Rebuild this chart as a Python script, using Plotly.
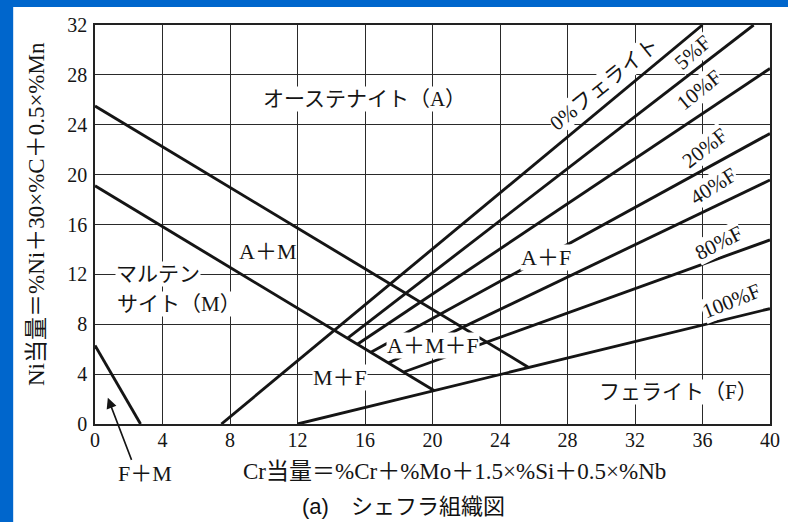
import plotly.graph_objects as go

# Schaeffler constitution diagram: Cr equivalent (x) vs Ni equivalent (y)
x_ticks = [0, 4, 8, 12, 16, 20, 24, 28, 32, 36, 40]
y_ticks = [0, 4, 8, 12, 16, 20, 24, 28, 32]

# Phase boundary lines (Cr eq, Ni eq)
am_upper_cr = [0.0, 25.7]
am_upper_ni = [25.5, 4.54]
am_lower_cr = [0.0, 20.09]
am_lower_ni = [19.1, 2.68]
fm_cr = [0.0, 2.7]
fm_ni = [6.3, 0.0]

# Constant ferrite-content lines
ferrite_pct = ["0%", "5%", "10%", "20%", "40%", "80%", "100%"]
ferrite_cr_start = [7.49, 14.99, 15.57, 16.35, 17.4, 18.3, 12.0]
ferrite_ni_start = [0.0, 6.9, 6.41, 5.76, 4.9, 4.17, 0.0]
ferrite_cr_end = [36.0, 39.03, 40.0, 40.0, 40.0, 40.0, 40.0]
ferrite_ni_end = [32.0, 32.0, 28.52, 23.3, 19.57, 14.76, 9.25]

# Ferrite line labels
ferrite_labels = ["0%フェライト", "5%F", "10%F", "20%F", "40%F", "80%F", "100%F"]
ferrite_label_cr = [30.2, 35.45, 35.8, 36.15, 36.65, 36.95, 37.7]
ferrite_label_ni = [27.25, 29.8, 26.8, 22.1, 19.1, 14.5, 9.89]
ferrite_label_angle = [-39, -41, -39, -38, -32, -27, -22]

# Region labels inside the diagram
region_labels = ["オーステナイト（A）", "A＋M", "A＋F", "A＋M＋F", "M＋F",
                 "フェライト（F）", "マルテン", "サイト（M）"]
region_cr = [15.95, 10.2, 26.75, 20.05, 14.5, 34.55, 3.74, 5.0]
region_ni = [26.06, 13.82, 13.35, 6.27, 3.73, 2.59, 12.03, 9.62]

# F+M corner: label below the axis, arrow into the corner
fm_label = "F＋M"
fm_arrow_head = (0.76, 2.1)
fm_arrow_tail = (2.2, -3.0)

x_title = "Cr当量＝%Cr＋%Mo＋1.5×%Si＋0.5×%Nb"
y_title = "Ni当量＝%Ni＋30×%C＋0.5×%Mn"
caption = "(a)　シェフラ組織図"

SERIF = "Liberation Serif, Noto Sans CJK JP, serif"
SANS = "Liberation Sans, Noto Sans CJK JP, sans-serif"
INK = "#151515"

fig = go.Figure()

line_style = dict(color=INK, width=2.9)
for cr, ni, name in [(am_upper_cr, am_upper_ni, "A/A+M"),
                     (am_lower_cr, am_lower_ni, "M/A+M"),
                     (fm_cr, fm_ni, "F+M")]:
    fig.add_trace(go.Scatter(x=cr, y=ni, mode="lines", line=line_style,
                             name=name, hoverinfo="skip"))

for i, pct in enumerate(ferrite_pct):
    fig.add_trace(go.Scatter(
        x=[ferrite_cr_start[i], ferrite_cr_end[i]],
        y=[ferrite_ni_start[i], ferrite_ni_end[i]],
        mode="lines", line=line_style, name=pct + "F", hoverinfo="skip"))

annotations = []
for txt, cr, ni in zip(region_labels, region_cr, region_ni):
    size = 21 if any(ord(c) > 0x3000 and c not in "＋" for c in txt) else 22
    annotations.append(dict(x=cr, y=ni, xref="x", yref="y", text=txt,
                            showarrow=False, bgcolor="white", borderpad=0,
                            font=dict(family=SERIF, size=size, color=INK)))

for txt, cr, ni, ang in zip(ferrite_labels, ferrite_label_cr,
                            ferrite_label_ni, ferrite_label_angle):
    annotations.append(dict(x=cr, y=ni, xref="x", yref="y", text=txt,
                            textangle=ang, showarrow=False, bgcolor="white",
                            borderpad=0,
                            font=dict(family=SERIF, size=21, color=INK)))

# arrow pointing into the F+M corner
annotations.append(dict(x=fm_arrow_head[0], y=fm_arrow_head[1], xref="x", yref="y",
                        ax=fm_arrow_tail[0], ay=fm_arrow_tail[1],
                        axref="x", ayref="y", text="", showarrow=True,
                        arrowhead=2, arrowsize=1.3, arrowwidth=1.6,
                        arrowcolor=INK))
annotations.append(dict(x=0.0745, y=-0.124, xref="paper", yref="paper",
                        xanchor="center", yanchor="middle", text=fm_label,
                        showarrow=False,
                        font=dict(family=SERIF, size=22, color=INK)))

# axis titles and caption
annotations.append(dict(x=0.533, y=-0.12, xref="paper", yref="paper",
                        xanchor="center", yanchor="middle",
                        text=x_title, showarrow=False,
                        font=dict(family=SERIF, size=23, color=INK)))
annotations.append(dict(x=-0.087, y=0.527, xref="paper", yref="paper",
                        xanchor="center", yanchor="middle",
                        text=y_title, textangle=-90, showarrow=False,
                        font=dict(family=SERIF, size=23, color=INK)))
annotations.append(dict(x=0.457, y=-0.208, xref="paper", yref="paper",
                        xanchor="center", yanchor="middle",
                        text=caption, showarrow=False,
                        font=dict(family=SANS, size=22, color="#111")))

# slide frame strips along the top and left edges
shapes = [
    dict(type="rect", xref="paper", yref="paper", x0=-0.16, x1=-0.1212,
         y0=-0.3, y1=1.1, fillcolor="#0066CC", line=dict(width=0), layer="above"),
    dict(type="rect", xref="paper", yref="paper", x0=-0.16, x1=1.05,
         y0=1.0451, y1=1.1, fillcolor="#0066CC", line=dict(width=0), layer="above"),
]

axis_common = dict(showgrid=True, gridcolor="#2a2a2a", gridwidth=1.3,
                   showline=True, linecolor="#222", linewidth=1.6, mirror=True,
                   zeroline=False, ticks="",
                   tickfont=dict(family=SERIF, size=20, color=INK))

fig.update_layout(
    width=788, height=522,
    margin=dict(l=95, r=8, t=25, b=98),
    paper_bgcolor="white", plot_bgcolor="white",
    showlegend=False,
    xaxis=dict(range=[0, 40], tickvals=x_ticks, ticklabelstandoff=-3,
               **axis_common),
    yaxis=dict(range=[0, 32], tickvals=y_ticks, ticklabelstandoff=2,
               **axis_common),
    annotations=annotations,
    shapes=shapes,
)

fig.write_html("out.html")
